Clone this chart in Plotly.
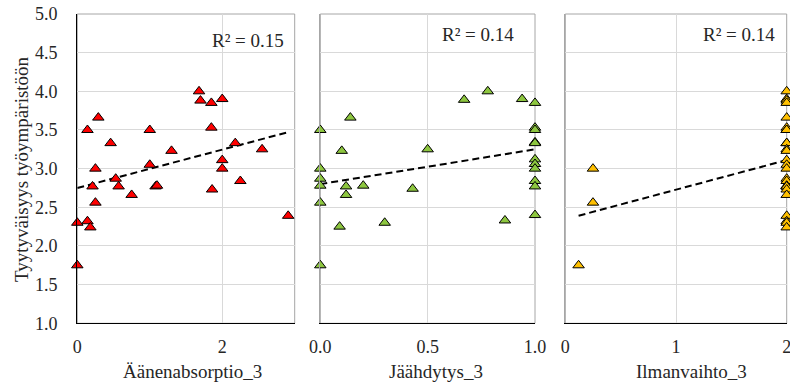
import plotly.graph_objects as go

# ---- data ----
# Panel 1: Äänenabsorptio_3
abs_x = [0.0, 0.0, 0.14, 0.18, 0.25, 0.25, 0.21, 0.14, 0.29, 0.46, 0.53, 0.57, 0.75, 1.0, 1.0,
         1.08, 1.10, 1.30, 1.68, 1.70, 1.85, 2.0, 1.85, 1.86, 2.0, 2.0, 2.18, 2.25, 2.55, 2.91]
abs_y = [1.75, 2.30, 2.32, 2.24, 2.56, 3.00, 2.77, 3.50, 3.66, 3.33, 2.87, 2.77, 2.66, 3.50, 3.05,
         2.77, 2.78, 3.23, 4.00, 3.88, 3.85, 3.90, 3.53, 2.73, 3.11, 3.00, 3.33, 2.84, 3.25, 2.39]
# Panel 2: Jäähdytys_3
cool_x = [0.0, 0.0, 0.0, 0.0, 0.0, 0.0, 0.09, 0.10, 0.12, 0.12, 0.14, 0.20, 0.30, 0.43, 0.50,
          0.67, 0.78, 0.86, 0.94, 1.0, 1.0, 1.0, 1.0, 1.0, 1.0, 1.0, 1.0, 1.0, 1.0, 1.0]
cool_y = [1.75, 2.56, 2.78, 2.87, 3.00, 3.50, 2.25, 3.23, 2.77, 2.66, 3.66, 2.78, 2.30, 2.74, 3.25,
          3.89, 4.00, 2.33, 3.90, 3.85, 3.53, 3.50, 3.34, 3.33, 3.12, 3.06, 3.00, 2.84, 2.77, 2.40]
# Panel 3: Ilmanvaihto_3
vent_x = [0.12, 0.25, 0.25] + [2.0] * 27
vent_y = [1.75, 3.00, 2.56,
          4.00, 3.90, 3.88, 3.85, 3.66, 3.53, 3.50, 3.50, 3.33, 3.33, 3.25, 3.23, 3.11, 3.05,
          3.00, 2.87, 2.84, 2.78, 2.77, 2.77, 2.77, 2.73, 2.66, 2.39, 2.32, 2.30, 2.24]

# Linear trend lines (intercept, slope) and R²
trend_intercepts = [2.75, 2.80, 2.345]
trend_slopes = [0.248, 0.45, 0.383]
r2_labels = ["R² = 0.15", "R² = 0.14", "R² = 0.14"]

x_titles = ["Äänenabsorptio_3", "Jäähdytys_3", "Ilmanvaihto_3"]
y_title = "Tyytyväisyys työympäristöön"
x_ranges = [[0, 3], [0, 1], [0, 2]]
x_tickvals = [[0, 2], [0, 0.5, 1.0], [0, 1, 2]]
x_tickformats = ["d", ".1f", "d"]
y_ticks = [1.0, 1.5, 2.0, 2.5, 3.0, 3.5, 4.0, 4.5, 5.0]
colors = ["#FF0000", "#8DC63F", "#FFC000"]

# ---- layout geometry ----
W, H = 790, 387
FONT = "'Liberation Serif', 'Times New Roman', 'DejaVu Serif', serif"
TXT = "#262626"
x_domains_px = [(77.3, 294.7), (320.3, 535.0), (565.3, 786.7)]
y_dom = [(H - 323.3) / H, (H - 14) / H]
title_centers_px = [192, 436, 691.7]
r2_right_px = [286, 516, 776.7]
r2_y_px = [40, 35, 35]

fig = go.Figure()
panels = [(abs_x, abs_y), (cool_x, cool_y), (vent_x, vent_y)]
for i, (xs, ys) in enumerate(panels):
    xa = "x" if i == 0 else f"x{i+1}"
    ya = "y" if i == 0 else f"y{i+1}"
    xmin, xmax = min(xs), max(xs)
    fig.add_trace(go.Scatter(
        x=[xmin, xmax],
        y=[trend_intercepts[i] + trend_slopes[i] * xmin, trend_intercepts[i] + trend_slopes[i] * xmax],
        mode="lines", line=dict(color="black", width=2, dash="7px,4px"),
        xaxis=xa, yaxis=ya, showlegend=False, hoverinfo="skip"))
    fig.add_trace(go.Scatter(
        x=xs, y=ys, mode="markers",
        marker=dict(symbol="triangle-up", size=10, color=colors[i],
                    line=dict(color="black", width=1)),
        cliponaxis=False, xaxis=xa, yaxis=ya, showlegend=False))

layout = dict(
    width=W, height=H, margin=dict(l=0, r=0, t=0, b=0, autoexpand=False),
    paper_bgcolor="white", plot_bgcolor="white",
    font=dict(family=FONT, color=TXT, size=18),
    showlegend=False,
)
shapes = []
annotations = []
for i in range(3):
    xk = "xaxis" if i == 0 else f"xaxis{i+1}"
    yk = "yaxis" if i == 0 else f"yaxis{i+1}"
    x0, x1 = x_domains_px[i]
    layout[xk] = dict(
        domain=[x0 / W, x1 / W], range=x_ranges[i], anchor="y" if i == 0 else f"y{i+1}",
        tickvals=x_tickvals[i], tickformat=x_tickformats[i], automargin=False,
        ticklabeloverflow="allow",
        showgrid=True, gridcolor="#d9d9d9", gridwidth=1, zeroline=False,
        showline=True, linecolor="black", linewidth=1.3,
        ticks="", ticklabelstandoff=7,
        tickfont=dict(family=FONT, size=18, color=TXT), fixedrange=True)
    layout[yk] = dict(
        domain=y_dom, range=[1, 5], anchor="x" if i == 0 else f"x{i+1}",
        tickvals=y_ticks, tickformat=".1f", automargin=False,
        showgrid=True, gridcolor="#d9d9d9", gridwidth=1, zeroline=False,
        showline=True, linecolor="black" if i == 0 else "#a6a6a6", linewidth=1.3 if i == 0 else 1,
        showticklabels=(i == 0), ticks="", ticklabelstandoff=15,
        tickfont=dict(family=FONT, size=18, color=TXT), fixedrange=True)
    shapes.append(dict(type="rect", xref="paper", yref="paper",
                       x0=x0 / W, x1=x1 / W, y0=y_dom[0], y1=y_dom[1],
                       line=dict(color="#a6a6a6", width=1), layer="below"))
    annotations.append(dict(text=x_titles[i], xref="paper", yref="paper",
                            x=title_centers_px[i] / W, y=(H - 371.7) / H,
                            xanchor="center", yanchor="middle", showarrow=False,
                            font=dict(family=FONT, size=19, color=TXT)))
    annotations.append(dict(text=r2_labels[i], xref="paper", yref="paper",
                            x=r2_right_px[i] / W, y=(H - r2_y_px[i]) / H,
                            xanchor="right", yanchor="middle", showarrow=False,
                            font=dict(family=FONT, size=19, color=TXT)))
annotations.append(dict(text=y_title, xref="paper", yref="paper",
                        x=22 / W, y=(H - 169) / H, textangle=-90,
                        xanchor="center", yanchor="middle", showarrow=False,
                        font=dict(family=FONT, size=19, color=TXT)))
layout["shapes"] = shapes
layout["annotations"] = annotations
fig.update_layout(**layout)
fig.write_html("out.html", config={"displayModeBar": False},
               post_script="document.body.style.margin='0';document.body.style.overflow='hidden';")
